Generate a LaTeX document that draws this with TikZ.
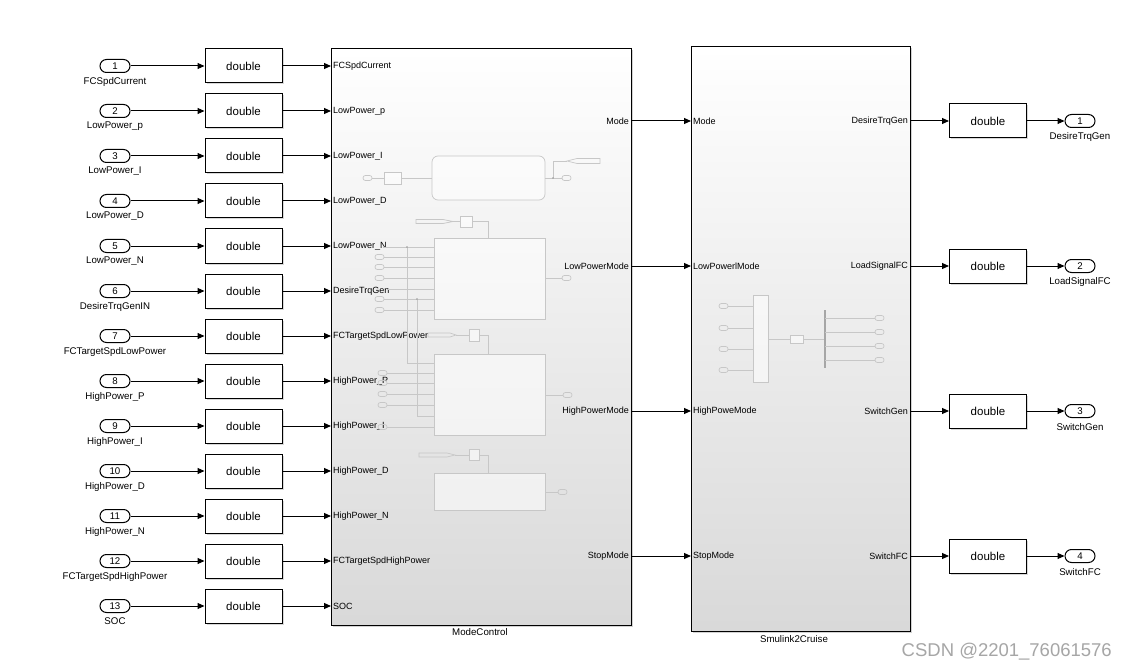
\documentclass[tikz,border=0pt]{standalone}
\usepackage{fontspec}
\setmainfont{Liberation Sans}
\usetikzlibrary{arrows.meta,shadows}
\newcommand{\fsz}[1]{\fontsize{#1}{#1}\selectfont}
\begin{document}
\begin{tikzpicture}[x=1pt,y=-1pt,
  wire/.style={line width=1pt, -{Triangle[length=7pt,width=6pt]}},
  inport/.style={draw, line width=1pt, rounded corners=6.5pt, minimum width=30pt, minimum height=13pt, inner sep=0pt, font=\fsz{9.7}},
  dbl/.style={draw, line width=1pt, fill=white, minimum width=77pt, minimum height=34pt, inner sep=0pt, font=\fsz{11.5},
    drop shadow={shadow xshift=1.5pt, shadow yshift=-1.5pt, opacity=0.3}},
  subsys/.style={draw, line width=1.1pt, anchor=north west, inner sep=0pt, top color=white, middle color=black!3, bottom color=black!15,
    drop shadow={shadow xshift=1.5pt, shadow yshift=-1.5pt, opacity=0.35}},
  plabel/.style={font=\fsz{9.7}, inner sep=0pt},
  portl/.style={font=\fsz{9}, inner sep=2pt},
  faint/.style={draw=black!22, line width=0.7pt},
  faintbox/.style={draw=black!22, line width=0.7pt, fill=white, fill opacity=0.55},
  mini/.style={draw=black!22, line width=0.7pt, rounded corners=2.4pt}
]
\fill[white] (0,0) rectangle (1127,671);
\useasboundingbox (0,0) rectangle (1127,671);

% ---------- main subsystems ----------
\node[subsys, minimum width=300pt, minimum height=577pt] (mc) at (331,48) {};
\node[subsys, minimum width=219pt, minimum height=585pt] (sc) at (691,46) {};
\node[plabel] (mcname) at (480,632) {ModeControl};
\node[plabel] (scname) at (794,639) {Smulink2Cruise};

% ---------- inputs ----------
\foreach \i/\a/\b in {1/FCSpdCurrent/FCSpdCurrent,
  2/LowPower\_p/LowPower\_p,
  3/LowPower\_I/LowPower\_I,
  4/LowPower\_D/LowPower\_D,
  5/LowPower\_N/LowPower\_N,
  6/DesireTrqGenIN/DesireTrqGen,
  7/FCTargetSpdLowPower/FCTargetSpdLowPower,
  8/HighPower\_P/HighPower\_P,
  9/HighPower\_I/HighPower\_I,
  10/HighPower\_D/HighPower\_D,
  11/HighPower\_N/HighPower\_N,
  12/FCTargetSpdHighPower/FCTargetSpdHighPower,
  13/SOC/SOC}{
  \pgfmathsetmacro{\yy}{66+45*(\i-1)}
  \node[inport] (in\i) at (115,\yy) {\i};
  \node[plabel] (inl\i) at (115,\yy+15.5) {\a};
  \node[dbl] (d\i) at (243.5,\yy) {double};
  \coordinate (mci\i) at (331,\yy);
  \node[portl, anchor=west] (mcl\i) at (331,\yy) {\b};
  \draw[wire] (in\i) -- (d\i);
  \draw[wire] (d\i) -- (mci\i);
}

% ---------- middle connections and outputs ----------
\foreach \j/\mo/\si/\so/\ol in {1/Mode/Mode/DesireTrqGen/DesireTrqGen,
  2/LowPowerMode/LowPowerlMode/LoadSignalFC/LoadSignalFC,
  3/HighPowerMode/HighPoweMode/SwitchGen/SwitchGen,
  4/StopMode/StopMode/SwitchFC/SwitchFC}{
  \pgfmathsetmacro{\yy}{121+145*(\j-1)}
  \coordinate (mco\j) at (631,\yy);
  \coordinate (sci\j) at (691,\yy);
  \coordinate (sco\j) at (910,\yy);
  \node[portl, anchor=east] (mcol\j) at (631,\yy) {\mo};
  \node[portl, anchor=west] (scil\j) at (691,\yy) {\si};
  \node[portl, anchor=east] (scol\j) at (910,\yy) {\so};
  \node[dbl] (od\j) at (988,\yy) {double};
  \node[inport] (out\j) at (1080,\yy) {\j};
  \node[plabel] (outl\j) at (1080,\yy+16) {\ol};
  \draw[wire] (mco\j) -- (sci\j);
  \draw[wire] (sco\j) -- (od\j);
  \draw[wire] (od\j) -- (out\j);
}

% ---------- faint interior of ModeControl ----------
% chart
\draw[faintbox, rounded corners=6pt] (432,156) rectangle (545,200);
\draw[mini] (363,175.5) rectangle (372,180.5);
\draw[faint] (372,178) -- (384,178);
\draw[faintbox] (384,172) rectangle (401,184);
\draw[faint] (401,178) -- (432,178);
\draw[faint] (545,178) -- (562,178);
\draw[mini] (562,175.5) rectangle (571,180.5);
\draw[faint] (553,178) -- (553,161) -- (567,161);
\fill[black!40] (553,178) circle (0.9);
\draw[faint] (567,161) -- (577,158.5) -- (600,158.5) -- (600,163.5) -- (577,163.5) -- cycle;

% block 2
\draw[faintbox] (434,238) rectangle (545,319);
\draw[faint] (416,219.5) -- (443,219.5) -- (453,221.5) -- (443,223.5) -- (416,223.5) -- cycle;
\draw[faint] (453,221.5) -- (460,221.5);
\draw[faintbox] (460,216) rectangle (472,227);
\draw[faint] (472,221.5) -- (488,221.5) -- (488,238);
\draw[faint] (383,247) -- (434,247);
\draw[faint] (388,289) -- (434,289);
\foreach \yy in {257,267,278,299,310}{
  \draw[mini] (375,\yy-2.5) rectangle (384,\yy+2.5);
  \draw[faint] (384,\yy) -- (434,\yy);
}
\draw[faint] (407,247) -- (407,363) -- (434,363);
\draw[faint] (417,299) -- (417,416) -- (434,416);
\fill[black!40] (407,247) circle (0.9);
\fill[black!40] (417,299) circle (0.9);
\draw[faint] (545,278) -- (562,278);
\draw[mini] (562,275.5) rectangle (571,280.5);

% block 3
\draw[faintbox] (434,354) rectangle (545,435);
\draw[faint] (428,333) -- (450,333) -- (456,335) -- (450,337) -- (428,337) -- cycle;
\draw[faint] (456,335) -- (469,335);
\draw[faintbox] (469,329) rectangle (479,341);
\draw[faint] (479,335) -- (488,335) -- (488,354);
\foreach \yy in {373,383,394,405,427}{
  \draw[mini] (378,\yy-2.5) rectangle (387,\yy+2.5);
  \draw[faint] (387,\yy) -- (434,\yy);
}
\draw[faint] (545,395) -- (563,395);
\draw[mini] (563,392.5) rectangle (572,397.5);

% block 4
\draw[faintbox] (434,473) rectangle (545,510);
\draw[faint] (419,453) -- (447,453) -- (455,455) -- (447,457) -- (419,457) -- cycle;
\draw[faint] (455,455) -- (469,455);
\draw[faintbox] (469,449) rectangle (479,460);
\draw[faint] (479,455) -- (488,455) -- (488,473);
\draw[faint] (545,492) -- (558,492);
\draw[mini] (558,489.5) rectangle (567,494.5);

% ---------- faint interior of Smulink2Cruise ----------
\draw[faintbox] (753,295) rectangle (768,382);
\foreach \yy in {306,328,349,370}{
  \draw[mini] (719,\yy-2.5) rectangle (728,\yy+2.5);
  \draw[faint] (728,\yy) -- (753,\yy);
}
\draw[faint] (768,339) -- (790,339);
\draw[faintbox] (790,335) rectangle (803,343);
\draw[faint] (803,339) -- (825,339);
\draw[black!35, line width=2pt] (825,310) -- (825,368);
\foreach \yy in {318,332,346,360}{
  \draw[faint] (825,\yy) -- (875,\yy);
  \draw[mini] (875,\yy-2.5) rectangle (884,\yy+2.5);
}

% ---------- watermark ----------
\node[text=black!35, font=\fsz{18.5}, inner sep=0pt, anchor=east] (wm) at (1112,652) {CSDN @2201\_76061576};
\end{tikzpicture}
\end{document}
